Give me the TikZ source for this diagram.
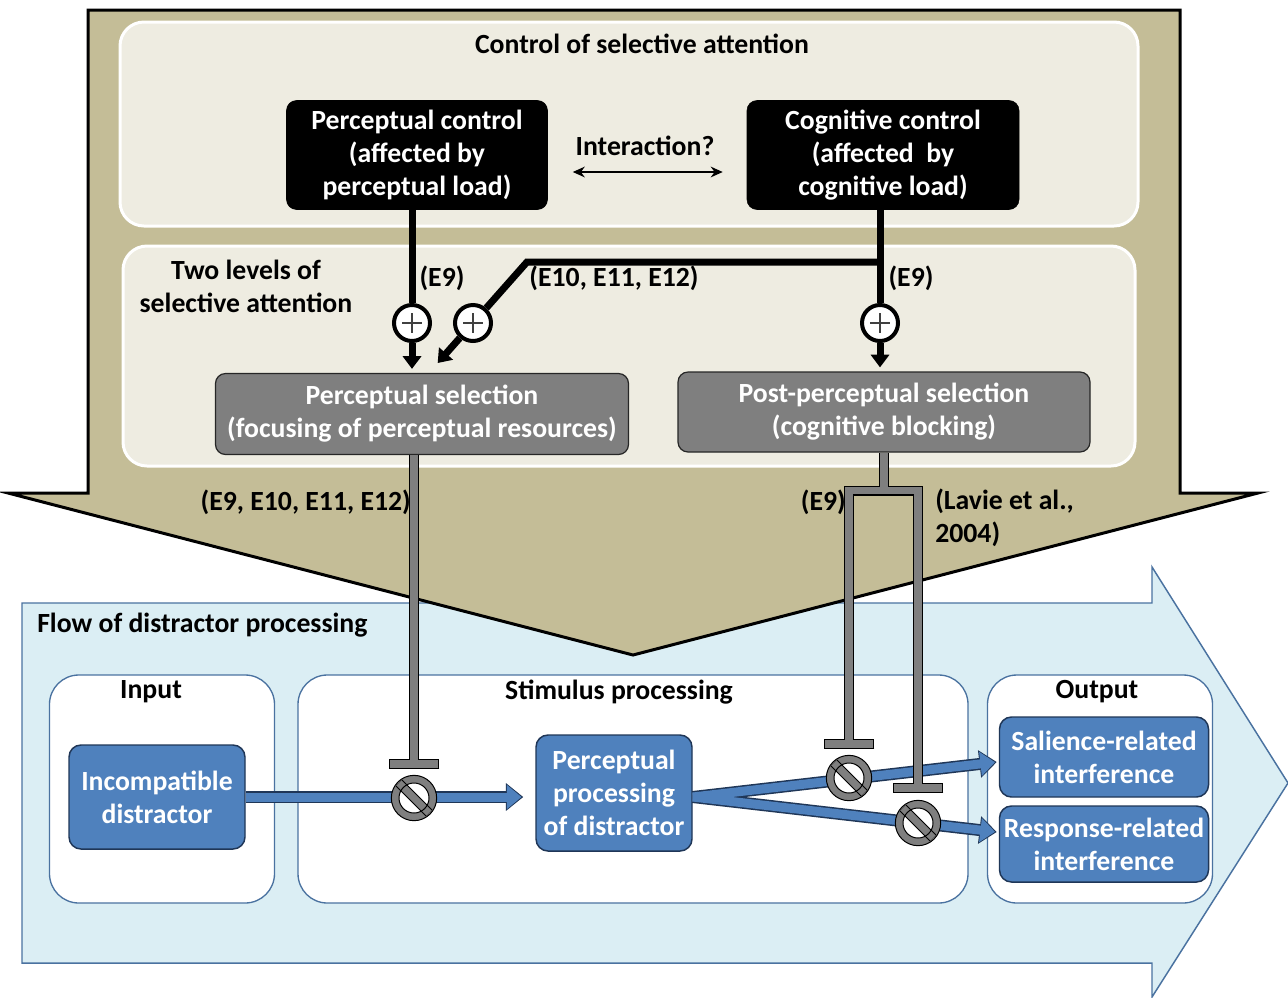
\documentclass[tikz,border=0pt]{standalone}
\usepackage{fontspec}
\setmainfont{Carlito}
\usetikzlibrary{arrows.meta,calc}
\definecolor{tanfill}{HTML}{C4BD97}
\definecolor{panelfill}{HTML}{EEECE1}
\definecolor{selgray}{HTML}{7F7F7F}
\definecolor{flowblue}{HTML}{4F81BD}
\definecolor{flowedge}{HTML}{1F3657}
\definecolor{skyfill}{HTML}{DBEEF4}
\definecolor{skyedge}{HTML}{4A72A0}
\definecolor{plusgray}{HTML}{404040}

\begin{document}
\begin{tikzpicture}[x=0.75pt,y=-0.75pt,
  font=\fontsize{20.8}{24.75}\selectfont\bfseries,
  ctlbox/.style={fill=black,draw=black,rounded corners=7.5pt,text=white,align=center,inner sep=0pt},
  selbox/.style={fill=selgray,draw=black!85,line width=0.9pt,rounded corners=7.5pt,text=white,align=center,inner sep=0pt},
  flowbox/.style={fill=flowblue,draw=flowedge,line width=1.1pt,rounded corners=9pt,text=white,align=center,inner sep=0pt},
  stagebox/.style={fill=white,draw=skyedge,line width=1pt,rounded corners=22pt,inner sep=0pt},
  panel/.style={fill=panelfill,draw=white,line width=2.25pt,rounded corners=18pt},
  ctlline/.style={draw=black,line width=5.25pt},
  ctlarrow/.style={ctlline,-{Triangle[length=9.5pt,width=13.5pt]},shorten >=3pt},
  plusnode/.style={circle,fill=white,draw=black,line width=3pt,minimum size=27pt,inner sep=0pt,
    path picture={\draw[plusgray,line width=1.8pt] (path picture bounding box.center)
      +(-10,0) -- +(10,0) +(0,-10) -- +(0,10);}},
  blocksym/.style={circle,fill=selgray,draw=black,line width=0.75pt,minimum size=34pt,inner sep=0pt,
    path picture={
      \fill[white] (path picture bounding box.center) circle (15);
      \draw[black,line width=7pt] (path picture bounding box.center) +(-15,-15) -- +(15,15);
      \draw[selgray,line width=5.5pt] (path picture bounding box.center) +(-15,-15) -- +(15,15);
      \draw[black,line width=0.75pt] (path picture bounding box.center) circle (15);}},
  flowout/.style={draw=flowedge,line width=9pt,-{Triangle[length=13pt,width=20pt]}},
  flowin/.style={draw=flowblue,line width=6.75pt,-{Triangle[length=11pt,width=17.5pt]},shorten >=1.3pt},
  inhibout/.style={draw=black,line width=7.5pt},
  inhibin/.style={draw=selgray,line width=5.5pt},
  label/.style={inner sep=0pt}]
  \useasboundingbox (0,0) rectangle (1288,997);

  % big arrows
  \draw[fill=skyfill,draw=skyedge,line width=1.1pt] (22,603) -- (1152,603) -- (1152,567)
    -- (1288,783) -- (1152,997) -- (1152,963) -- (22,963) -- cycle;
  \draw[fill=tanfill,draw=black,line width=2.25pt] (88,10) -- (1180,10) -- (1180,493)
    -- (1258,493) -- (633,655) -- (8,493) -- (88,493) -- cycle;
  \draw[panel] (120,22) rectangle (1138,226);
  \draw[panel] (123,246) rectangle (1135,466);

  % control of selective attention
  \node[label] (ctltitle) at (642,44) {Control of selective attention};
  \node[ctlbox,minimum width=195.75pt,minimum height=81.75pt] (percctl) at (417,155)
    {Perceptual control\\(affected by\\perceptual load)};
  \node[ctlbox,minimum width=204pt,minimum height=81.75pt] (cogctl) at (883,155)
    {Cognitive control\\(affected\ \ by\\cognitive load)};
  \node[label] (interact) at (645,146) {Interaction?};
  \draw[line width=1.5pt,{Stealth[length=9pt,width=8pt]}-{Stealth[length=9pt,width=8pt]}]
    ($(percctl.east)+(25,17)$) -- ($(cogctl.west)+(-24,17)$);

  % two levels
  \node[label,align=center] (levels) at (246,286) {Two levels of\\selective attention};
  \node[selbox,minimum width=309.75pt,minimum height=60.75pt] (percsel) at (422,414)
    {Perceptual selection\\(focusing of perceptual resources)};
  \node[selbox,minimum width=309pt,minimum height=60pt] (postsel) at (884,412)
    {Post-perceptual selection\\(cognitive blocking)};
  \node[plusnode] (plusA) at (412,323) {};
  \node[plusnode] (plusB) at (473,323) {};
  \node[plusnode] (plusC) at (880,323) {};
  \coordinate (bend) at (527,262);
  \coordinate (tipB) at (435,366);
  \draw[ctlline] (plusA |- percctl.south) -- (plusA);
  \draw[ctlarrow] (plusA) -- (plusA |- percsel.north);
  \draw[ctlline] (plusC |- cogctl.south) -- (plusC);
  \draw[ctlarrow] (plusC) -- (plusC |- postsel.north);
  \draw[ctlline,line join=miter] (plusC |- bend) -- (bend) -- (plusB);
  \draw[ctlarrow] (plusB) -- (tipB);
  \node[label] (lblA) at (442,278) {(E9)};
  \node[label] (lblB) at (614,278) {(E10, E11, E12)};
  \node[label] (lblC) at (911,278) {(E9)};

  % flow of distractor processing
  \node[label,anchor=west] (flowtitle) at (37,625) {Flow of distractor processing};
  \node[stagebox,minimum width=168.75pt,minimum height=171pt] (inbox) at (162,789) {};
  \node[stagebox,minimum width=502.5pt,minimum height=171pt] (stimbox) at (633,789) {};
  \node[stagebox,minimum width=168.75pt,minimum height=171pt] (outbox) at (1100,789) {};
  \node[label] (intitle) at (151,692) {Input};
  \node[label] (stimtitle) at (619,692) {Stimulus processing};
  \node[label] (outtitle) at (1097,692) {Output};
  \node[flowbox,minimum width=132pt,minimum height=78pt] (incomp) at (157,797)
    {Incompatible\\distractor};
  \node[flowbox,minimum width=117pt,minimum height=87pt] (percproc) at (614,793)
    {Perceptual\\processing\\of distractor};
  \node[flowbox,minimum width=156.75pt,minimum height=60pt] (sal) at (1104,757)
    {Salience-related\\interference};
  \node[flowbox,minimum width=156.75pt,minimum height=57pt] (resp) at (1104,844)
    {Response-related\\interference};

  \coordinate (fork) at ($(percproc.east)+(0,4)$);
  \coordinate (inend) at ($(incomp.east -| percproc.west)+(-12,0)$);
  \coordinate (salend) at ($(sal.west)+(-2,5)$);
  \coordinate (respend) at ($(resp.west)+(-2,-12)$);
  \draw[flowout] (incomp.east) -- (inend);
  \draw[flowout] (fork) -- (salend);
  \draw[flowout] (fork) -- (respend);
  \draw[flowin] (incomp.east) -- (inend);
  \draw[flowin] (fork) -- (salend);
  \draw[flowin] (fork) -- (respend);

  \node[blocksym] (blkA) at (414,798) {};
  \node[blocksym] (blkB) at (849,778) {};
  \node[blocksym] (blkC) at (918,823) {};

  % inhibition lines
  \coordinate (endA) at ($(blkA.north)+(0,-6)$);
  \coordinate (endB) at ($(blkB.north)+(0,-6)$);
  \coordinate (endC) at ($(blkC.north)+(0,-7)$);
  \coordinate (split) at ($(postsel.south)+(0,38)$);
  \draw[inhibout,-{Bar[width=38pt]}] (blkA |- percsel.south) -- (endA);
  \draw[inhibout] (postsel.south) -- (split);
  \draw[inhibout,line join=miter,{Bar[width=38pt]}-{Bar[width=38pt]}]
    (endB) -- (blkB |- split) -- (blkC |- split) -- (endC);
  \draw[inhibin,-{Bar[width=36.5pt]},shorten >=1pt] (blkA |- percsel.south) -- (endA);
  \draw[inhibin] (postsel.south) -- (split);
  \draw[inhibin,line join=miter,{Bar[width=36.5pt]}-{Bar[width=36.5pt]},shorten <=1pt,shorten >=1pt]
    (endB) -- (blkB |- split) -- (blkC |- split) -- (endC);
  \node[label,anchor=east] (lblD) at (411,502) {(E9, E10, E11, E12)};
  \node[label,anchor=east] (lblE) at (846,502) {(E9)};
  \node[label,anchor=west,align=left] (lblF) at (935,518) {(Lavie et al.,\\2004)};
\end{tikzpicture}
\end{document}
